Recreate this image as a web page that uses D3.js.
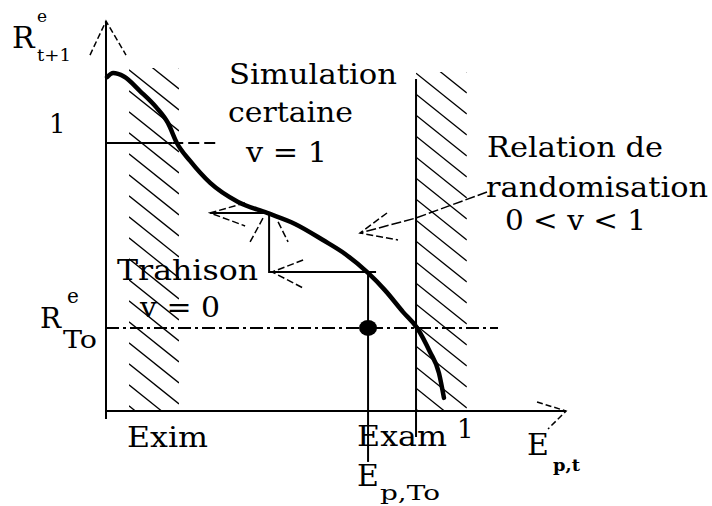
<!DOCTYPE html>
<html>
<head>
<meta charset="utf-8">
<script src="https://cdn.jsdelivr.net/npm/d3@7"></script>
<style>
  body { margin: 0; background: #fff; }
  svg { display: block; }
  text { font-family: "DejaVu Serif", "Liberation Serif", serif; fill: #000; }
</style>
</head>
<body>
<svg width="712" height="506"></svg>
<script>
  // curve R^e_{t+1} against E_{p,t}
  const curveX = [0.003, 0.020, 0.050, 0.095, 0.140, 0.173, 0.198, 0.235, 0.291, 0.369, 0.450,
                  0.528, 0.606, 0.668, 0.732, 0.779, 0.830, 0.869, 0.905, 0.930, 0.944];
  const curveY = [1.246, 1.261, 1.248, 1.194, 1.134, 1.075, 1.000, 0.933, 0.851, 0.780, 0.739,
                  0.698, 0.638, 0.586, 0.515, 0.451, 0.369, 0.310, 0.220, 0.142, 0.049];

  const levelOne = 1;          // "1" on the vertical axis
  const levelRTo = 0.31;       // R^e_To
  const eTo = 0.732;           // E_p,To
  const eToLevel = 0.515;      // where the E_p,To line meets the curve
  const simPoint = [0.45, 0.739];
  const bandExim = [0.064, 0.204];
  const bandExam = [0.866, 1.008];
  const xMax = 1.285, yMax = 1.455;

  const svg = d3.select("svg");

  const x = d3.scaleLinear().domain([0, 1]).range([106, 464]);
  const y = d3.scaleLinear().domain([0, 1]).range([411, 143]);

  const line = d3.line();
  function seg(pts, w, dash) {
    const p = svg.append("path")
      .attr("d", line(pts))
      .attr("fill", "none")
      .attr("stroke", "#000")
      .attr("stroke-width", w);
    if (dash) p.attr("stroke-dasharray", dash);
    return p;
  }

  // hatched bands
  function hatch(band, top, bottom) {
    const x0 = x(band[0]), x1 = x(band[1]);
    const y0 = y(top), y1 = y(bottom);
    const clipId = "clip" + band[0];
    svg.append("clipPath").attr("id", clipId)
      .append("rect").attr("x", x0).attr("y", y0).attr("width", x1 - x0).attr("height", y1 - y0);
    const g = svg.append("g").attr("clip-path", `url(#${clipId})`);
    const slope = 0.8, step = 21;
    for (let s = y0 - (x1 - x0) * slope; s < y1; s += step) {
      g.append("line")
        .attr("x1", x0).attr("y1", s)
        .attr("x2", x1).attr("y2", s + (x1 - x0) * slope)
        .attr("stroke", "#000").attr("stroke-width", 1.3);
    }
  }
  hatch(bandExim, 1.28, 0);
  hatch(bandExam, 1.265, 0);

  // Exam boundary line
  seg([[x(bandExam[0]), y(1.239)], [x(bandExam[0]), y(-0.097)]], 2);

  // axes
  seg([[x(0), y(-0.03)], [x(0), y(yMax)]], 2);
  seg([[x(0), y(0)], [x(xMax), y(0)]], 2);
  // axis arrow heads
  const ty = [x(0), y(yMax)];
  seg([[ty[0] - 16, ty[1] + 34], ty, [ty[0] + 20, ty[1] + 34]], 1.5, "6,3");
  const tx = [x(xMax), y(0)];
  seg([[tx[0] - 29, tx[1] - 9], tx, [tx[0] - 18, tx[1] + 18]], 1.5, "6,3");

  // level lines
  seg([[x(0), y(levelOne)], [x(0.185), y(levelOne)]], 2);
  seg([[x(0.185), y(levelOne)], [x(0.315), y(levelOne)]], 2, "11,5");
  seg([[x(0), y(levelRTo)], [x(1.095), y(levelRTo)]], 2, "13,4,3,4");

  // E_p,To vertical
  seg([[x(eTo), y(eToLevel)], [x(eTo), y(-0.19)]], 2);
  svg.append("ellipse")
    .attr("cx", x(eTo)).attr("cy", y(levelRTo))
    .attr("rx", 9).attr("ry", 8).attr("fill", "#000");

  // the curve
  const pts = curveX.map((d, i) => [x(d), y(curveY[i])]);
  svg.append("path")
    .attr("d", d3.line().curve(d3.curveMonotoneX)(pts))
    .attr("fill", "none")
    .attr("stroke", "#000")
    .attr("stroke-width", 4.5)
    .attr("stroke-linecap", "round");

  // simulation certaine arrow
  const sp = [x(simPoint[0]), y(simPoint[1])];
  seg([sp, [sp[0] - 57, sp[1]]], 2);
  seg([[sp[0] - 22, sp[1] - 10], [sp[0] - 57, sp[1]], [sp[0] - 22, sp[1] + 13]], 1.5, "7,3");
  seg([[sp[0] - 17, sp[1] + 29], [sp[0] - 4, sp[1] + 5]], 1.5, "7,3");
  seg([[sp[0] + 11, sp[1] + 9], [sp[0] + 21, sp[1] + 29]], 1.5, "7,3");

  // trahison arrow
  const tp = [x(simPoint[0]) + 2, y(eToLevel) - 1];
  seg([[tp[0], sp[1] + 2], tp, [x(eTo) + 8, tp[1]]], 2);
  seg([[tp[0] + 34, tp[1] - 12], [tp[0] + 3, tp[1]], [tp[0] + 34, tp[1] + 16]], 1.5, "7,3");

  // randomisation arrow
  seg([[487, 192], [x(bandExam[0]), 218], [360, 233]], 1.5, "10,3");
  seg([[387, 213], [360, 233], [398, 240]], 1.5, "7,3");

  // texts
  function label(t, px, py, size, len, weight) {
    const el = svg.append("text").attr("x", px).attr("y", py)
      .style("font-size", size + "px").text(t);
    if (len) el.attr("textLength", len).attr("lengthAdjust", "spacingAndGlyphs");
    if (weight) el.style("font-weight", weight);
    return el;
  }
  label("R", 12, 48, 30);
  label("e", 37, 22, 17);
  label("t+1", 37, 61, 17, 34);
  label("1", 49, 133, 26);
  label("Simulation", 229, 84, 28, 168);
  label("certaine", 228, 122, 28, 125);
  label("v = 1", 246, 162, 28, 81);
  label("Relation de", 487, 157, 28, 176);
  label("randomisation", 486, 197, 28, 222);
  label("0 < v < 1", 505, 230, 28, 141);
  label("Trahison", 117, 280, 28, 141);
  label("v = 0", 140, 317, 28, 80);
  label("R", 40, 328, 28);
  label("e", 67, 303, 20);
  label("To", 63, 348, 24, 34);
  label("Exim", 127, 447, 28, 81);
  label("Exam", 357, 446, 28, 90);
  label("1", x(1) - 7, 438, 26);
  label("E", 527, 455, 30);
  label("p,t", 553, 471, 17, 27, "bold");
  label("E", 357, 486, 30);
  label("p,To", 380, 500, 20, 60);
</script>
</body>
</html>
